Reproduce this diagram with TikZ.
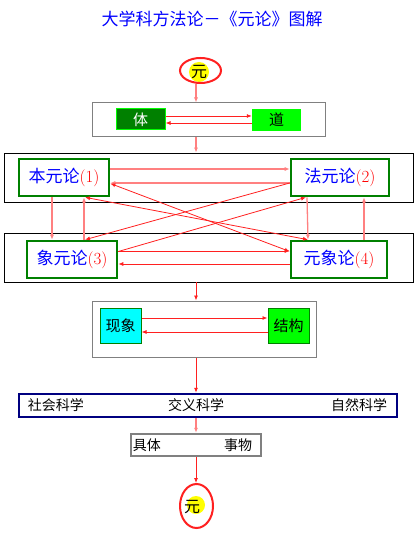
\documentclass[tikz,border=0pt]{standalone}
\usepackage{fontspec}
\usepackage{xcolor}
\usetikzlibrary{arrows.meta, positioning, calc, shapes.geometric}
\newfontfamily\cjk{Noto Sans CJK SC}
\definecolor{titleblue}{HTML}{0000FF}
\definecolor{lunred}{HTML}{FF2020}
\definecolor{numred}{HTML}{FF0000}
\definecolor{palered}{HTML}{FF8080}
\definecolor{lungreen}{HTML}{008000}
\definecolor{brightgreen}{HTML}{00FF00}
\definecolor{brightcyan}{HTML}{00FFFF}
\definecolor{navyline}{HTML}{000080}
\definecolor{dotyellow}{HTML}{FFFF00}
\definecolor{framegray}{HTML}{808080}

\tikzset{
  frame/.style={draw=framegray, line width=1pt, minimum width=#1},
  bigframe/.style={draw=black, line width=0.8pt, minimum width=409pt, minimum height=49pt},
  lunbox/.style={draw=lungreen, line width=2.6pt, fill=white, minimum height=37pt, inner sep=0pt},
  yuan/.style={ellipse, draw=lunred, line width=2pt, inner sep=0pt},
  arr/.style={draw=lunred, line width=0.8pt, -{Latex[length=5pt,width=4pt]}},
  parr/.style={draw=palered, line width=1.3pt, -{Latex[length=5pt,width=4pt]}},
  cjktext/.style={font=\cjk\fontsize{#1}{#1}\selectfont, inner sep=0pt}
}

\begin{document}
\begin{tikzpicture}[x=1pt, y=-1pt]
  \useasboundingbox (0,0) rectangle (417,534);
  % Title
  \node[cjktext=17, text=titleblue] (title) at (212,19) {大学科方法论－《元论》图解};
  % Top 元
  \fill[dotyellow] (199,72) circle (10);
  \node[yuan, minimum width=41pt, minimum height=25pt] (top) at (200.5,70.5) {};
  \node[cjktext=16] (toptext) at (199,72) {元};
  \coordinate (axis) at (196,0);
  % 体 / 道
  \node[frame=233pt, minimum height=34pt] (box1) at (208.5,120) {};
  \node[draw=brightgreen, line width=1pt, fill=lungreen, minimum width=49pt, minimum height=21pt, cjktext=15, text=white] (ti) at (140.5,119.5) {体};
  \node[fill=brightgreen, minimum width=49pt, minimum height=22pt, cjktext=15] (dao) at (276.5,120) {道};
  \draw[arr] ([yshift=3.5pt]ti.east) -- ([yshift=3.5pt]ti.east -| dao.west);
  \draw[arr] ([yshift=-3pt]dao.west) -- ([yshift=-3pt]dao.west -| ti.east);
  \draw[parr] (top.south -| axis) -- (box1.north -| axis);
  % Four 元论
  \node[bigframe] (box2) at (208.5,177.5) {};
  \node[bigframe] (box3) at (208.5,257.5) {};
  \draw[parr] (box1.south -| axis) -- (box2.north -| axis);
  \node[lunbox, minimum width=90pt] (b1) at (64,177.5) {\cjk\fontsize{17}{17}\selectfont\textcolor{titleblue}{本元论}\textcolor{numred}{\rmfamily(1)}};
  \node[lunbox, minimum width=98pt] (b2) at (340,177.5) {\cjk\fontsize{17}{17}\selectfont\textcolor{titleblue}{法元论}\textcolor{numred}{\rmfamily(2)}};
  \node[lunbox, minimum width=90pt] (b3) at (72,259.5) {\cjk\fontsize{17}{17}\selectfont\textcolor{titleblue}{象元论}\textcolor{numred}{\rmfamily(3)}};
  \node[lunbox, minimum width=96pt] (b4) at (339,259.5) {\cjk\fontsize{17}{17}\selectfont\textcolor{titleblue}{元象论}\textcolor{numred}{\rmfamily(4)}};
  % horizontal
  \draw[parr] ([yshift=8.5pt]b1.east) -- ([yshift=8.5pt]b1.east -| b2.west);
  \draw[parr] ([yshift=-5.5pt]b2.west) -- ([yshift=-5.5pt]b2.west -| b1.east);
  \draw[arr] ([yshift=8.5pt]b3.east) -- ([yshift=8.5pt]b3.east -| b4.west);
  \draw[arr] ([yshift=-4.5pt]b4.west) -- ([yshift=-4.5pt]b4.west -| b3.east);
  % vertical
  \draw[parr] ([xshift=-12pt]b1.south) -- ([xshift=-12pt]b1.south |- b3.north);
  \draw[parr] ([xshift=12pt]b3.north) -- ([xshift=12pt]b3.north |- b1.south);
  \draw[parr] ([xshift=-33pt]b2.south) -- ([xshift=-31pt]b4.north);
  \draw[parr] ([xshift=25pt]b4.north) -- ([xshift=25pt]b4.north |- b2.south);
  % diagonal
  \draw[arr, {Latex[length=5pt,width=4pt]}-{Latex[length=5pt,width=4pt]}] ([xshift=21pt]b1.south) -- ([xshift=-31pt]b4.north);
  \draw[arr, {Latex[length=5pt,width=4pt]}-{Latex[length=5pt,width=4pt]}] ([yshift=-6pt]b1.east) -- ([yshift=8pt]b4.west);
  \draw[arr] ([yshift=-5.5pt]b2.west) -- ([xshift=13pt]b3.north);
  \draw[arr] ([yshift=8pt]b3.east) -- ([xshift=-34pt]b2.south);
  % 现象 / 结构
  \node[frame=224pt, minimum height=56pt] (box4) at (204,329) {};
  \draw[arr] (box3.south -| axis) -- (box4.north -| axis);
  \node[draw=lungreen, line width=1pt, fill=brightcyan, minimum width=41pt, minimum height=35pt, cjktext=15] (xx) at (120.5,325.5) {现象};
  \node[draw=lungreen, line width=1pt, fill=brightgreen, minimum width=41pt, minimum height=35pt, cjktext=15] (jg) at (288.5,325.5) {结构};
  \draw[arr] ([yshift=7.5pt]xx.east) -- ([yshift=7.5pt]xx.east -| jg.west);
  \draw[arr] ([yshift=-6.5pt]jg.west) -- ([yshift=-6.5pt]jg.west -| xx.east);
  % 科学
  \node[draw=navyline, line width=2.5pt, minimum width=378pt, minimum height=23pt] (box5) at (208,405.5) {};
  \draw[arr] (box4.south -| axis) -- (box5.north -| axis);
  \node[cjktext=14, anchor=west] (shehui) at ([xshift=10pt]box5.west) {社会科学};
  \node[cjktext=14] (jiaocha) at (196,405.5) {交义科学};
  \node[cjktext=14, anchor=east] (ziran) at ([xshift=-11pt]box5.east) {自然科学};
  % 具体事物
  \node[draw=framegray, line width=2.5pt, fill=white, minimum width=130pt, minimum height=22pt] (box6) at (196,445) {};
  \draw[parr] (box5.south -| axis) -- (box6.north -| axis);
  \node[cjktext=14, anchor=west] (juti) at ([xshift=3pt]box6.west) {具体};
  \node[cjktext=14, anchor=east] (shiwu) at ([xshift=-10pt]box6.east) {事物};
  % Bottom 元
  \fill[dotyellow] (196,505) circle (9);
  \node[yuan, minimum width=33pt, minimum height=44pt] (bottom) at (196.5,506) {};
  \node[cjktext=16] (bottext) at (192,507) {元};
  \draw[arr] (box6.south -| axis) -- (bottom.north -| axis);
\end{tikzpicture}
\end{document}
